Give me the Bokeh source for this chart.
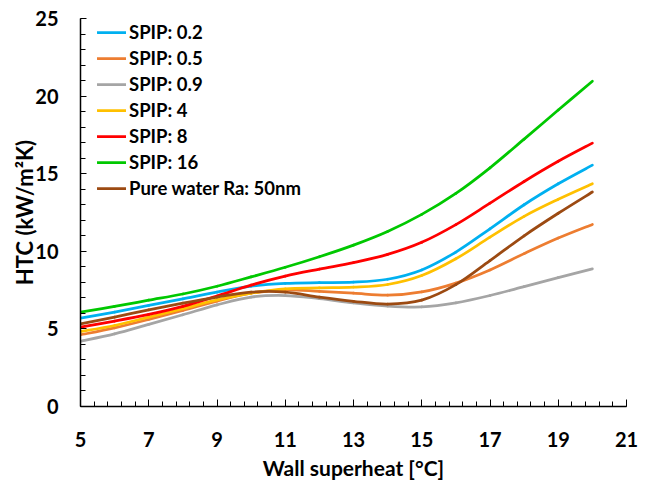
from bokeh.plotting import figure
from bokeh.models import FixedTicker, Range1d, Legend, LegendItem
from bokeh.embed import file_html
from bokeh.resources import INLINE

# ---- data ----
superheat = [5, 6, 7, 8, 9, 10, 11, 12, 13, 14, 15, 16, 17, 18, 19, 20]

spip_02 = [5.69, 6.08, 6.51, 6.94, 7.37, 7.75, 7.93, 7.98, 8.01, 8.20, 8.80, 9.95, 11.45, 13.00, 14.35, 15.55]
spip_05 = [4.62, 5.07, 5.61, 6.19, 6.79, 7.30, 7.52, 7.42, 7.30, 7.17, 7.38, 7.95, 8.80, 9.85, 10.85, 11.73]
spip_09 = [4.21, 4.68, 5.29, 5.91, 6.55, 7.05, 7.15, 6.95, 6.68, 6.47, 6.42, 6.68, 7.15, 7.72, 8.30, 8.87]
spip_4 = [4.83, 5.22, 5.76, 6.30, 6.87, 7.30, 7.58, 7.64, 7.69, 7.86, 8.44, 9.52, 10.91, 12.25, 13.35, 14.35]
spip_8 = [5.11, 5.50, 5.93, 6.45, 7.12, 7.82, 8.40, 8.85, 9.27, 9.80, 10.58, 11.72, 13.10, 14.50, 15.80, 16.97]
spip_16 = [6.08, 6.45, 6.85, 7.25, 7.75, 8.35, 8.97, 9.65, 10.40, 11.28, 12.38, 13.73, 15.38, 17.23, 19.10, 20.96]
pure_water = [5.33, 5.76, 6.23, 6.66, 7.05, 7.37, 7.37, 7.05, 6.78, 6.60, 6.85, 7.85, 9.40, 11.00, 12.45, 13.82]

series_labels = ["SPIP: 0.2", "SPIP: 0.5", "SPIP: 0.9", "SPIP: 4", "SPIP: 8", "SPIP: 16",
                 "Pure water Ra: 50nm"]
series_values = [spip_02, spip_05, spip_09, spip_4, spip_8, spip_16, pure_water]
series_colors = ["#00B0F0", "#ED7D31", "#A5A5A5", "#FFC000", "#FF0000", "#00C800", "#9C4A12"]

x_ticks = [5, 7, 9, 11, 13, 15, 17, 19, 21]
x_minor = [5 + 0.4 * i for i in range(41)]
y_ticks = [0, 5, 10, 15, 20, 25]
y_minor = list(range(0, 26))

x_title = "Wall superheat [°C]"
y_title = "HTC (kW/m²K)"

FONT = "Lato"


def smooth_segments(xs, ys):
    """Catmull-Rom (Excel 'smoothed line') segments through the data points,
    expressed as cubic Bezier control points in data space."""
    n = len(xs)
    x0, y0, x1, y1, cx0, cy0, cx1, cy1 = ([] for _ in range(8))
    for i in range(n - 1):
        ip = max(i - 1, 0)
        inn = min(i + 2, n - 1)
        x0.append(xs[i]); y0.append(ys[i])
        x1.append(xs[i + 1]); y1.append(ys[i + 1])
        cx0.append(xs[i] + (xs[i + 1] - xs[ip]) / 6.0)
        cy0.append(ys[i] + (ys[i + 1] - ys[ip]) / 6.0)
        cx1.append(xs[i + 1] - (xs[inn] - xs[i]) / 6.0)
        cy1.append(ys[i + 1] - (ys[inn] - ys[i]) / 6.0)
    return dict(x0=x0, y0=y0, x1=x1, y1=y1, cx0=cx0, cy0=cy0, cx1=cx1, cy1=cy1)


p = figure(width=646, height=482, output_backend="svg", toolbar_location=None,
           x_range=Range1d(5, 21), y_range=Range1d(0, 25),
           min_border_left=80, min_border_right=20, min_border_top=18, min_border_bottom=76)
p.outline_line_color = None
p.grid.visible = False
p.background_fill_color = "white"
p.border_fill_color = "white"

items = []
for lab, vals, col in zip(series_labels, series_values, series_colors):
    seg = smooth_segments(superheat, vals)
    r = p.bezier(x0=seg["x0"], y0=seg["y0"], x1=seg["x1"], y1=seg["y1"],
                 cx0=seg["cx0"], cy0=seg["cy0"], cx1=seg["cx1"], cy1=seg["cy1"],
                 line_color=col, line_width=2.75, line_cap="round")
    items.append(LegendItem(label=lab, renderers=[r]))

for ax in (p.xaxis[0], p.yaxis[0]):
    ax.axis_line_color = "black"
    ax.axis_line_width = 1.5
    ax.major_tick_line_color = "black"
    ax.minor_tick_line_color = "black"
    ax.major_tick_out = 0
    ax.minor_tick_out = 0
    ax.major_label_text_font = FONT
    ax.major_label_text_font_style = "bold"
    ax.major_label_text_font_size = "20px"
    ax.major_label_text_color = "black"
    ax.axis_label_text_font = FONT
    ax.axis_label_text_font_style = "bold"
    ax.axis_label_text_color = "black"

p.xaxis.ticker = FixedTicker(ticks=x_ticks, minor_ticks=x_minor)
p.yaxis.ticker = FixedTicker(ticks=y_ticks, minor_ticks=y_minor)
p.xaxis.major_tick_in = 7
p.xaxis.minor_tick_in = 5
p.yaxis.major_tick_in = 6
p.yaxis.minor_tick_in = 5
p.xaxis.major_label_standoff = 25
p.yaxis.major_label_standoff = 22
p.xaxis.axis_label_standoff = 5
p.yaxis.axis_label_standoff = -6
p.xaxis.axis_label_text_font_size = "21px"
p.yaxis.axis_label_text_font_size = "22px"
p.xaxis.axis_label = x_title
p.yaxis.axis_label = y_title

legend = Legend(items=items, location=(17, 207))
legend.border_line_color = None
legend.background_fill_alpha = 0
legend.padding = 4
legend.margin = 0
legend.spacing = 4
legend.glyph_width = 29
legend.glyph_height = 20
legend.label_height = 20
legend.label_standoff = 3
legend.label_text_font = FONT
legend.label_text_font_style = "bold"
legend.label_text_font_size = "18.5px"
legend.label_text_color = "black"
p.add_layout(legend)

open("out.html", "w").write(file_html(p, INLINE))
